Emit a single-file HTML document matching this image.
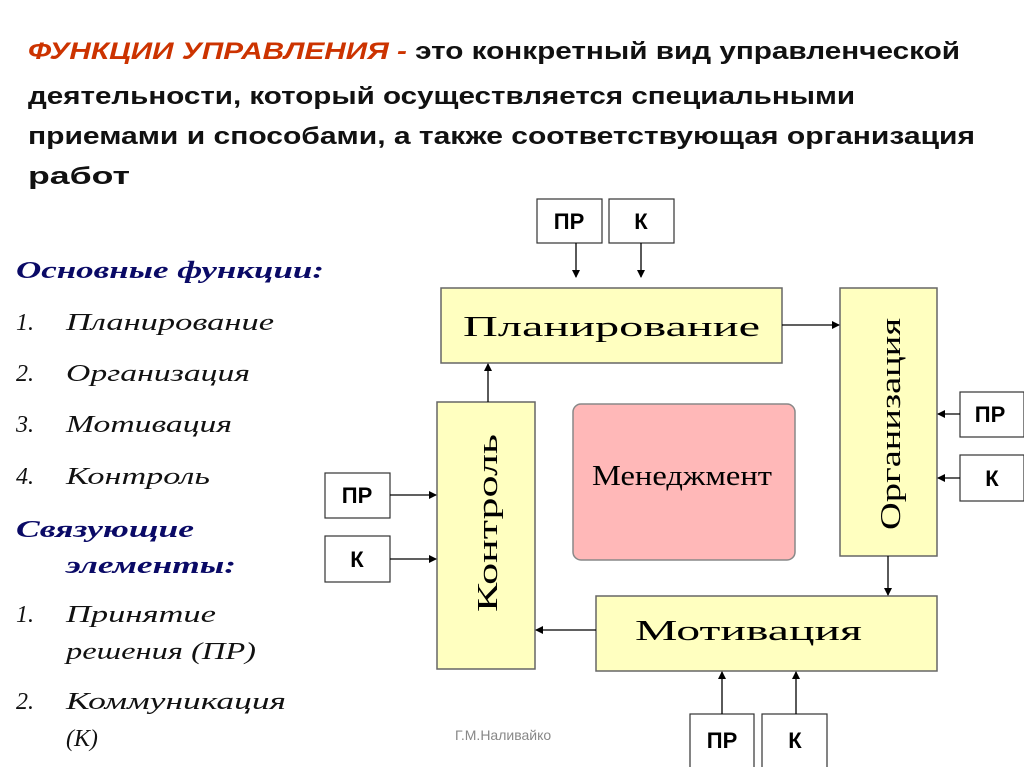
<!DOCTYPE html>
<html><head><meta charset="utf-8"><style>
html,body{margin:0;padding:0;background:#fff;}
svg{display:block}
.t{font-family:"Liberation Sans",sans-serif;font-weight:bold;font-size:24px;fill:#111}
.r{fill:#cc3300;font-style:italic}
.l{font-family:"Liberation Serif",serif;font-style:italic;font-size:24px;fill:#111}
.h{font-family:"Liberation Serif",serif;font-style:italic;font-weight:bold;font-size:24px;fill:#0a0a66}
.b{font-family:"Liberation Sans",sans-serif;font-weight:bold;font-size:22px;fill:#000}
.s{font-family:"Liberation Serif",serif;font-size:28px;fill:#000}
</style></head><body>
<svg width="1024" height="767" viewBox="0 0 1024 767" xmlns="http://www.w3.org/2000/svg">
<defs><marker id="a" markerWidth="8" markerHeight="8" refX="7" refY="4" orient="auto" markerUnits="userSpaceOnUse"><path d="M0,0 L8,4 L0,8 Z" fill="#000"/></marker></defs>
<text class="t" x="28" y="59" textLength="932" lengthAdjust="spacingAndGlyphs"><tspan class="r">ФУНКЦИИ УПРАВЛЕНИЯ -</tspan> это конкретный вид управленческой</text>
<text class="t" x="28" y="104" textLength="827" lengthAdjust="spacingAndGlyphs">деятельности, который осуществляется специальными</text>
<text class="t" x="28" y="144" textLength="947" lengthAdjust="spacingAndGlyphs">приемами и способами, а также соответствующая организация</text>
<text class="t" x="28" y="184" textLength="102" lengthAdjust="spacingAndGlyphs">работ</text>

<text class="h" x="16" y="278" textLength="308" lengthAdjust="spacingAndGlyphs">Основные функции:</text>
<text class="l" x="16" y="330">1.</text><text class="l" x="66" y="330" textLength="208" lengthAdjust="spacingAndGlyphs">Планирование</text>
<text class="l" x="16" y="381">2.</text><text class="l" x="66" y="381" textLength="184" lengthAdjust="spacingAndGlyphs">Организация</text>
<text class="l" x="16" y="432">3.</text><text class="l" x="66" y="432" textLength="166" lengthAdjust="spacingAndGlyphs">Мотивация</text>
<text class="l" x="16" y="484">4.</text><text class="l" x="66" y="484" textLength="144" lengthAdjust="spacingAndGlyphs">Контроль</text>
<text class="h" x="16" y="537" textLength="178" lengthAdjust="spacingAndGlyphs">Связующие</text>
<text class="h" x="66" y="573" textLength="170" lengthAdjust="spacingAndGlyphs">элементы:</text>
<text class="l" x="16" y="622">1.</text><text class="l" x="66" y="622" textLength="150" lengthAdjust="spacingAndGlyphs">Принятие</text>
<text class="l" x="66" y="659" textLength="190" lengthAdjust="spacingAndGlyphs">решения (ПР)</text>
<text class="l" x="16" y="709">2.</text><text class="l" x="66" y="709" textLength="220" lengthAdjust="spacingAndGlyphs">Коммуникация</text>
<text class="l" x="66" y="746">(К)</text>

<g fill="#ffffc0" stroke="#666" stroke-width="1.5">
<rect x="441" y="288" width="341" height="75"/>
<rect x="840" y="288" width="97" height="268"/>
<rect x="437" y="402" width="98" height="267"/>
<rect x="596" y="596" width="341" height="75"/>
</g>
<rect x="573" y="404" width="222" height="156" rx="8" fill="#ffb8b8" stroke="#888" stroke-width="1.5"/>
<text class="s" x="463" y="336" textLength="297" lengthAdjust="spacingAndGlyphs">Планирование</text>
<text class="s" x="635" y="640" textLength="227" lengthAdjust="spacingAndGlyphs">Мотивация</text>
<text class="s" x="592" y="485" font-size="19" textLength="180" lengthAdjust="spacingAndGlyphs">Менеджмент</text>
<text class="s" transform="translate(900,530) rotate(-90)" textLength="212" lengthAdjust="spacingAndGlyphs">Организация</text>
<text class="s" transform="translate(497,612) rotate(-90)" textLength="178" lengthAdjust="spacingAndGlyphs">Контроль</text>

<g fill="#fff" stroke="#333" stroke-width="1.2">
<rect x="537" y="199" width="65" height="44"/><rect x="609" y="199" width="65" height="44"/>
<rect x="960" y="392" width="64" height="45"/><rect x="960" y="455" width="64" height="46"/>
<rect x="325" y="473" width="65" height="45"/><rect x="325" y="536" width="65" height="46"/>
<rect x="690" y="714" width="64" height="60"/><rect x="762" y="714" width="65" height="60"/>
</g>
<g class="b" text-anchor="middle">
<text x="569" y="229">ПР</text><text x="641" y="229">К</text>
<text x="990" y="422">ПР</text><text x="992" y="486">К</text>
<text x="357" y="503">ПР</text><text x="357" y="567">К</text>
<text x="722" y="748">ПР</text><text x="795" y="748">К</text>
</g>
<g stroke="#000" stroke-width="1.3" marker-end="url(#a)">
<line x1="576" y1="243" x2="576" y2="277"/><line x1="641" y1="243" x2="641" y2="277"/>
<line x1="782" y1="325" x2="839" y2="325"/>
<line x1="488" y1="402" x2="488" y2="364"/>
<line x1="888" y1="556" x2="888" y2="595"/>
<line x1="596" y1="630" x2="536" y2="630"/>
<line x1="960" y1="414" x2="938" y2="414"/><line x1="960" y1="478" x2="938" y2="478"/>
<line x1="390" y1="495" x2="436" y2="495"/><line x1="390" y1="559" x2="436" y2="559"/>
<line x1="722" y1="714" x2="722" y2="672"/><line x1="796" y1="714" x2="796" y2="672"/>
</g>
<text x="455" y="740" font-family="Liberation Sans,sans-serif" font-size="14" fill="#888">Г.М.Наливайко</text>
</svg>
</body></html>
